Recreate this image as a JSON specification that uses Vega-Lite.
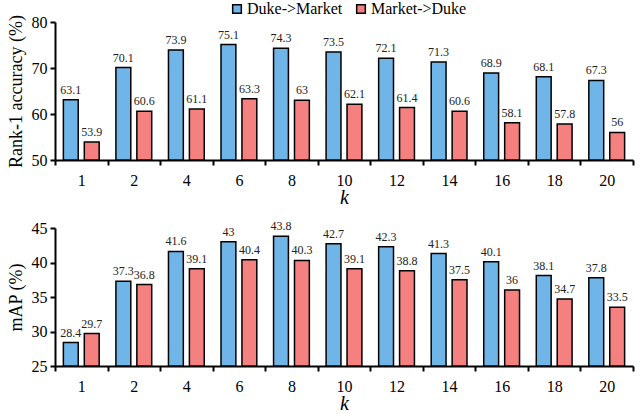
{
  "$schema": "https://vega.github.io/schema/vega-lite/v6.json",
  "data": {"values": [
    {"k": 1, "method": "Duke->Market", "rank1": 63.1, "mAP": 28.4},
    {"k": 1, "method": "Market->Duke", "rank1": 53.9, "mAP": 29.7},
    {"k": 2, "method": "Duke->Market", "rank1": 70.1, "mAP": 37.3},
    {"k": 2, "method": "Market->Duke", "rank1": 60.6, "mAP": 36.8},
    {"k": 4, "method": "Duke->Market", "rank1": 73.9, "mAP": 41.6},
    {"k": 4, "method": "Market->Duke", "rank1": 61.1, "mAP": 39.1},
    {"k": 6, "method": "Duke->Market", "rank1": 75.1, "mAP": 43},
    {"k": 6, "method": "Market->Duke", "rank1": 63.3, "mAP": 40.4},
    {"k": 8, "method": "Duke->Market", "rank1": 74.3, "mAP": 43.8},
    {"k": 8, "method": "Market->Duke", "rank1": 63, "mAP": 40.3},
    {"k": 10, "method": "Duke->Market", "rank1": 73.5, "mAP": 42.7},
    {"k": 10, "method": "Market->Duke", "rank1": 62.1, "mAP": 39.1},
    {"k": 12, "method": "Duke->Market", "rank1": 72.1, "mAP": 42.3},
    {"k": 12, "method": "Market->Duke", "rank1": 61.4, "mAP": 38.8},
    {"k": 14, "method": "Duke->Market", "rank1": 71.3, "mAP": 41.3},
    {"k": 14, "method": "Market->Duke", "rank1": 60.6, "mAP": 37.5},
    {"k": 16, "method": "Duke->Market", "rank1": 68.9, "mAP": 40.1},
    {"k": 16, "method": "Market->Duke", "rank1": 58.1, "mAP": 36},
    {"k": 18, "method": "Duke->Market", "rank1": 68.1, "mAP": 38.1},
    {"k": 18, "method": "Market->Duke", "rank1": 57.8, "mAP": 34.7},
    {"k": 20, "method": "Duke->Market", "rank1": 67.3, "mAP": 37.8},
    {"k": 20, "method": "Market->Duke", "rank1": 56, "mAP": 33.5}
  ]},
  "padding": {"left": 6, "top": 1, "right": 4, "bottom": 0},
  "spacing": 13,
  "config": {
    "font": "Liberation Serif",
    "view": {"stroke": null},
    "axis": {
      "domainColor": "black", "domainWidth": 2, "tickColor": "black", "tickWidth": 2, "tickSize": 5,
      "labelColor": "black", "labelFontSize": 16, "labelFont": "Liberation Serif", "titleFont": "Liberation Serif",
      "titleColor": "black", "titleFontWeight": "normal",
      "titleFontSize": 18, "grid": false, "labelPadding": 3
    },
    "legend": {"labelFont": "Liberation Serif"},
    "text": {"font": "Liberation Serif"}
  },
  "resolve": {"scale": {"y": "independent"}},
  "vconcat": [
    {
      "width": 578, "height": 138,
      "encoding": {
        "x": {"field": "k", "type": "ordinal", "scale": {"paddingInner": 0, "paddingOuter": 0},
              "axis": {"title": "k", "labelAngle": 0, "tickBand": "extent", "labelPadding": 7, "titleFontStyle": "italic", "titleFontSize": 20, "titlePadding": -1}},
        "xOffset": {"field": "method", "type": "nominal", "scale": {"paddingInner": 0.29, "paddingOuter": 0.4}},
        "y": {"field": "rank1", "type": "quantitative", "scale": {"domain": [50, 80], "zero": false, "nice": false},
              "axis": {"values": [50, 60, 70, 80], "title": "Rank-1 accuracy (%)", "titlePadding": 6}}
      },
      "layer": [
        {"mark": {"type": "bar", "stroke": "black", "strokeWidth": 1.5},
         "encoding": {"y2": {"datum": 50},
           "color": {"field": "method", "type": "nominal",
             "scale": {"domain": ["Duke->Market", "Market->Duke"], "range": ["#70b5e8", "#f48080"]},
             "legend": {"orient": "none", "legendX": 174, "legendY": -21, "direction": "horizontal", "title": null,
               "symbolType": "square", "symbolStrokeColor": "black", "symbolStrokeWidth": 1.5, "symbolSize": 75,
               "labelFontSize": 16, "labelColor": "black", "columnPadding": 10, "labelOffset": 2, "symbolOpacity": 1}}}},
        {"mark": {"type": "text", "baseline": "bottom", "dy": -3, "fontSize": 12, "color": "#222"},
         "encoding": {"text": {"field": "rank1", "type": "quantitative"}}}
      ]
    },
    {
      "width": 578, "height": 138,
      "encoding": {
        "x": {"field": "k", "type": "ordinal", "scale": {"paddingInner": 0, "paddingOuter": 0},
              "axis": {"title": "k", "labelAngle": 0, "tickBand": "extent", "labelPadding": 7, "titleFontStyle": "italic", "titleFontSize": 20, "titlePadding": -1}},
        "xOffset": {"field": "method", "type": "nominal", "scale": {"paddingInner": 0.29, "paddingOuter": 0.4}},
        "y": {"field": "mAP", "type": "quantitative", "scale": {"domain": [25, 45], "zero": false, "nice": false},
              "axis": {"values": [25, 30, 35, 40, 45], "title": "mAP (%)", "titlePadding": 6}}
      },
      "layer": [
        {"mark": {"type": "bar", "stroke": "black", "strokeWidth": 1.5},
         "encoding": {"y2": {"datum": 25},
           "color": {"field": "method", "type": "nominal",
             "scale": {"domain": ["Duke->Market", "Market->Duke"], "range": ["#70b5e8", "#f48080"]}}}},
        {"mark": {"type": "text", "baseline": "bottom", "dy": -3, "fontSize": 12, "color": "#222"},
         "encoding": {"text": {"field": "mAP", "type": "quantitative"}}}
      ]
    }
  ]
}
